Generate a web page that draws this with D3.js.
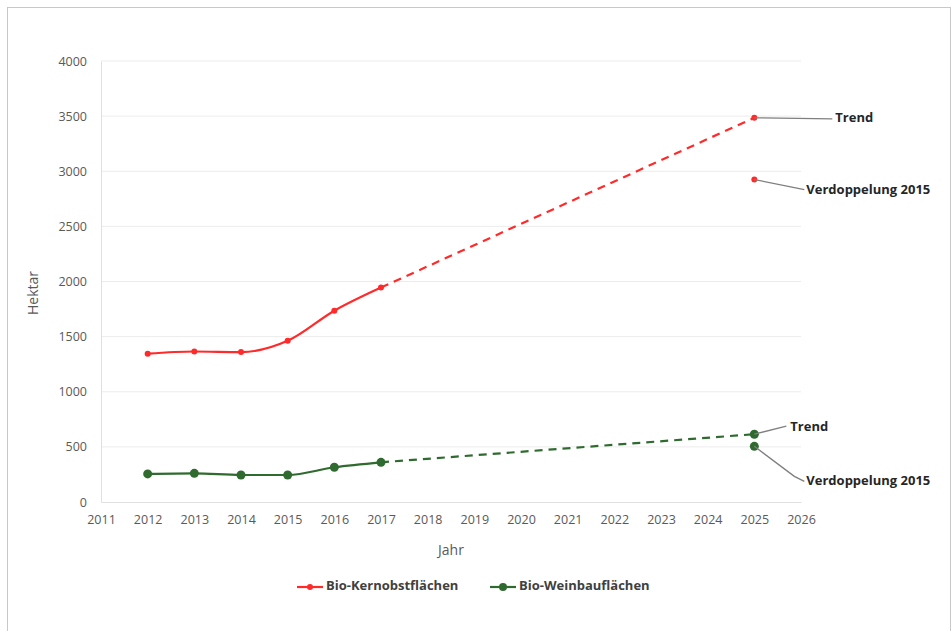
<!DOCTYPE html>
<html>
<head>
<meta charset="utf-8">
<script src="https://cdn.jsdelivr.net/npm/d3@7"></script>
<style>
  body { margin: 0; background: #fff; }
  text { font-family: "Open Sans", Lato, sans-serif; }
</style>
</head>
<body>
<svg id="chart"></svg>
<script>
// data
const years = [2012, 2013, 2014, 2015, 2016, 2017];
const kernobst = [1345, 1365, 1360, 1462, 1735, 1945];
const weinbau = [255, 260, 245, 245, 315, 360];
const trendYear = 2025;
const kernobstTrend = 3485;
const kernobstDouble = 2925;
const weinbauTrend = 615;
const weinbauDouble = 505;
const xTicks = d3.range(2011, 2027);
const yTicks = [0, 500, 1000, 1500, 2000, 2500, 3000, 3500, 4000];
const seriesNames = ["Bio-Kernobstflächen", "Bio-Weinbauflächen"];
const colors = ["#ff2a2a", "#2f6b2f"];

const width = 952, height = 631;
const margin = { top: 61, right: 151, bottom: 129, left: 101 };
const innerW = width - margin.left - margin.right;
const innerH = height - margin.top - margin.bottom;

const svg = d3.select("#chart").attr("width", width).attr("height", height);

// outer frame
svg.append("rect")
    .attr("x", 7.5).attr("y", 7.5)
    .attr("width", 943).attr("height", 640)
    .attr("fill", "none").attr("stroke", "#c8c8c8");

const g = svg.append("g").attr("transform", `translate(${margin.left},${margin.top})`);

const x = d3.scaleLinear().domain([2011, 2026]).range([0, innerW]);
const y = d3.scaleLinear().domain([0, 4000]).range([innerH, 0]);

// gridlines
g.append("g")
    .selectAll("line")
    .data(yTicks.filter(d => d > 0))
    .join("line")
    .attr("x1", 0).attr("x2", innerW)
    .attr("y1", d => y(d)).attr("y2", d => y(d))
    .attr("stroke", "#ececec");

// axes
const yAxis = g.append("g")
    .call(d3.axisLeft(y).tickValues(yTicks).tickFormat(d3.format("d")).tickSize(0).tickPadding(14));
const xAxis = g.append("g").attr("transform", `translate(0,${innerH})`)
    .call(d3.axisBottom(x).tickValues(xTicks).tickFormat(d3.format("d")).tickSize(0).tickPadding(13));
[xAxis, yAxis].forEach(a => {
    a.select(".domain").attr("stroke", "#e0e0e0");
    a.selectAll("text").attr("fill", "#595959").style("font-size", "12.5px");
});

// axis titles
svg.append("text")
    .attr("transform", "translate(38,293) rotate(-90)")
    .attr("text-anchor", "middle")
    .attr("fill", "#595959").style("font-size", "14px")
    .text("Hektar");
svg.append("text")
    .attr("x", 451).attr("y", 555)
    .attr("text-anchor", "middle")
    .attr("fill", "#595959").style("font-size", "14px")
    .text("Jahr");

const line = d3.line().x(d => x(d[0])).y(d => y(d[1]));
const allSeries = [
    { vals: kernobst, trend: kernobstTrend, dbl: kernobstDouble, color: colors[0], r: 3 },
    { vals: weinbau, trend: weinbauTrend, dbl: weinbauDouble, color: colors[1], r: 4.5 }
];

allSeries.forEach(s => {
    const pts = years.map((yr, i) => [yr, s.vals[i]]);
    const last = pts[pts.length - 1];
    g.append("path")
        .attr("d", line([last, [trendYear, s.trend]]))
        .attr("fill", "none").attr("stroke", s.color)
        .attr("stroke-width", 2.2).attr("stroke-dasharray", "8,6");
    g.append("path")
        .attr("d", d3.line().x(d => x(d[0])).y(d => y(d[1])).curve(d3.curveMonotoneX)(pts))
        .attr("fill", "none").attr("stroke", s.color).attr("stroke-width", 2.2);
    g.append("g")
        .selectAll("circle")
        .data(pts.concat([[trendYear, s.trend], [trendYear, s.dbl]]))
        .join("circle")
        .attr("cx", d => x(d[0])).attr("cy", d => y(d[1]))
        .attr("r", s.r).attr("fill", s.color);
});

// annotations with leader lines
const notes = [
    { v: kernobstTrend, path: [[0, 0], [78, 1]], text: "Trend", tx: 81, ty: 1 },
    { v: kernobstDouble, path: [[0, 0], [50, 10]], text: "Verdoppelung 2015", tx: 52, ty: 11 },
    { v: weinbauTrend, path: [[0, 0], [32, -8]], text: "Trend", tx: 36, ty: -7 },
    { v: weinbauDouble, path: [[0, 0], [40, 30], [50, 35]], text: "Verdoppelung 2015", tx: 52, ty: 35 }
];
notes.forEach(n => {
    const px = x(trendYear), py = y(n.v);
    g.append("path")
        .attr("d", d3.line()(n.path.map(p => [px + p[0], py + p[1]])))
        .attr("fill", "none").attr("stroke", "#7f7f7f").attr("stroke-width", 1.3);
    g.append("text")
        .attr("x", px + n.tx).attr("y", py + n.ty)
        .attr("dominant-baseline", "middle")
        .attr("fill", "#262626").style("font-size", "13px").style("font-weight", "bold")
        .text(n.text);
});

// legend
const legend = svg.append("g").attr("transform", "translate(297,587)");
const legendItems = [
    { name: seriesNames[0], color: colors[0], r: 3, x: 0 },
    { name: seriesNames[1], color: colors[1], r: 4, x: 193 }
];
legendItems.forEach(it => {
    const lg = legend.append("g").attr("transform", `translate(${it.x},0)`);
    lg.append("line").attr("x1", 0).attr("x2", 26).attr("stroke", it.color).attr("stroke-width", 2.2);
    lg.append("circle").attr("cx", 13).attr("r", it.r).attr("fill", it.color);
    lg.append("text").attr("x", 29).attr("dominant-baseline", "middle")
        .attr("fill", "#404040").style("font-size", "13px").style("font-weight", "bold")
        .text(it.name);
});
</script>
</body>
</html>
